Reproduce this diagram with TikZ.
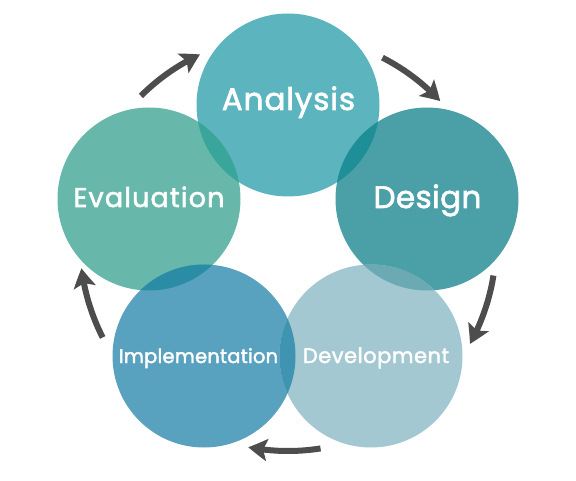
\documentclass[tikz,border=0pt]{standalone}
\usepackage{fontspec}
\setmainfont{Poppins}[FakeBold=2]
\usetikzlibrary{arrows.meta,bending,calc}
\definecolor{anaC}{HTML}{5CB5BE}
\definecolor{desC}{HTML}{4B9FA7}
\definecolor{evaC}{HTML}{67B8AA}
\definecolor{impC}{HTML}{59A2BF}
\definecolor{devC}{HTML}{A3C8D1}
\definecolor{lAE}{HTML}{3AA59A}
\definecolor{lAD}{HTML}{1E8E97}
\definecolor{lDV}{HTML}{6BAAB3}
\definecolor{lVI}{HTML}{3E94B1}
\definecolor{lIE}{HTML}{2B8CA5}
\definecolor{arrC}{HTML}{4D4D4D}
\tikzset{
  lbl/.style={text=white, inner sep=0pt, anchor=base},
  cyc/.style={draw=arrC, line width=6pt, -{Stealth[length=19pt,width=22pt,inset=4pt,bend]}},
}
\newcommand{\rr}{91.5pt}
\newcommand{\lsfont}[2]{\fontsize{#1}{#1}\selectfont\addfontfeature{LetterSpace=#2}}
\begin{document}
\begin{tikzpicture}[x=1pt,y=1pt]
\useasboundingbox (0,0) rectangle (576,480);
\coordinate (A) at (288,375);
\coordinate (D) at (427,281);
\coordinate (V) at (371,124);
\coordinate (I) at (204,124);
\coordinate (E) at (149,281);
\coordinate (O) at (288,237);
% circles
\fill[anaC] (A) circle (\rr);
\fill[desC] (D) circle (\rr);
\fill[evaC] (E) circle (\rr);
\fill[impC] (I) circle (\rr);
\fill[devC] (V) circle (\rr);
% overlaps
\begin{scope}\clip (A) circle (\rr); \fill[lAE] (E) circle (\rr);\end{scope}
\begin{scope}\clip (A) circle (\rr); \fill[lAD] (D) circle (\rr);\end{scope}
\begin{scope}\clip (D) circle (\rr); \fill[lDV] (V) circle (\rr);\end{scope}
\begin{scope}\clip (V) circle (\rr); \fill[lVI] (I) circle (\rr);\end{scope}
\begin{scope}\clip (I) circle (\rr); \fill[lIE] (E) circle (\rr);\end{scope}
% labels
\node[lbl, font=\lsfont{31}{3}] (tA) at (288.5,370) {Analysis};
\node[lbl, font=\lsfont{31}{1.3}] (tD) at (427.5,272) {Design};
\node[lbl, font=\lsfont{27}{4.3}] (tE) at (149,273) {Evaluation};
\node[lbl, font=\lsfont{19.5}{1}] (tI) at (198.5,117) {Implementation};
\node[lbl, font=\lsfont{21}{2.4}] (tV) at (376,117) {Development};
% cycle arrows
\foreach \c/\n in {125/1,53/2,-19/3,-91/4,-163/5}{
  \coordinate (s\n) at ($(O)+(\c+10:208)$);
  \draw[cyc] (s\n) arc[start angle=\c+10, end angle=\c-10, radius=208];
}
\end{tikzpicture}
\end{document}
